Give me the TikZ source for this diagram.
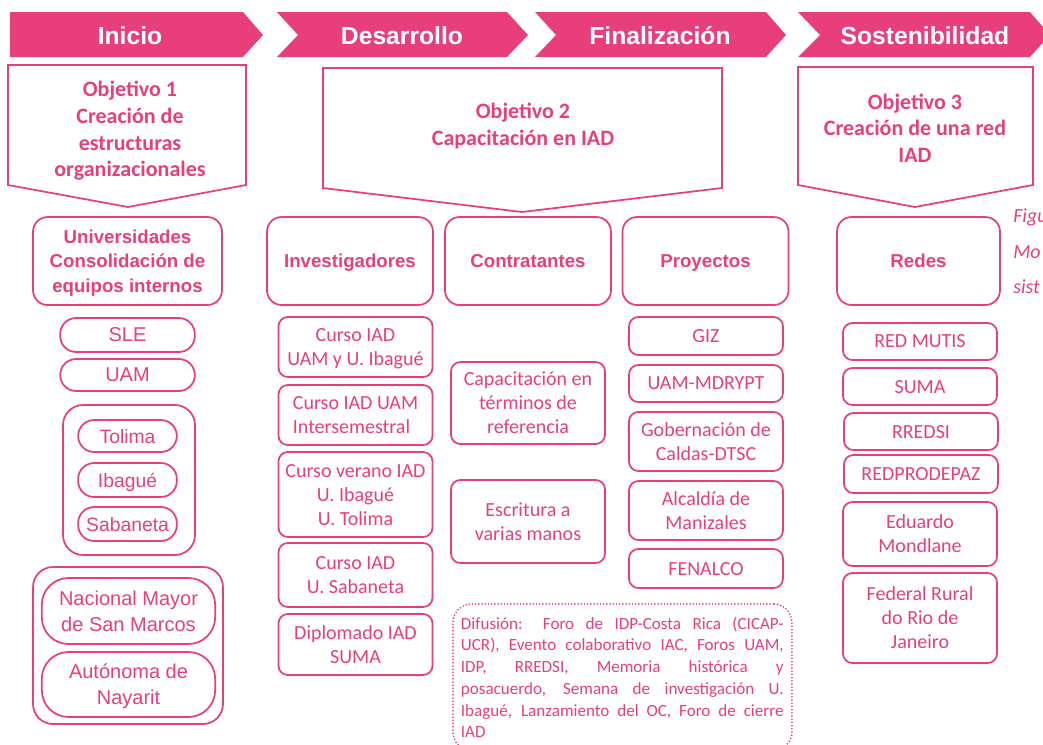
\documentclass[tikz,border=0pt]{standalone}
\usepackage{fontspec}
\setmainfont{Carlito}
\newfontfamily\arialfont{Liberation Sans}
\definecolor{iadpink}{RGB}{232,62,124}
\newcommand{\fullline}[1]{\makebox[242pt][s]{\spaceskip=0pt \xspaceskip=0pt #1}}

\begin{document}
\begin{tikzpicture}[
    x=0.75pt, y=-0.75pt,
    phase/.style={
        fill=iadpink,
        draw=none,
    },
    phasetext/.style={
        text=white,
        font=\arialfont\bfseries\fontsize{18.5}{22}\selectfont,
    },
    goal/.style={
        draw=iadpink,
        line width=1.3pt,
        line join=miter,
    },
    goaltext/.style={
        text=iadpink,
        align=center,
        font=\bfseries\fontsize{16.5}{20}\selectfont,
    },
    group/.style={
        draw=iadpink,
        line width=1.3pt,
        rounded corners=11pt,
        text=iadpink,
        align=center,
        inner sep=0pt,
        text depth=-3pt,
        minimum width=124.5pt,
        minimum height=66pt,
        font=\arialfont\bfseries\fontsize{14}{18.4}\selectfont,
    },
    item/.style={
        draw=iadpink,
        line width=1.3pt,
        rounded corners=7pt,
        text=iadpink,
        align=center,
        inner sep=0pt,
        text depth=-2.5pt,
        minimum width=115.5pt,
        font=\fontsize{15}{18}\selectfont,
    },
    pill/.style={
        item,
        rounded corners=12pt,
        text depth=-1.5pt,
        minimum width=101pt,
        font=\arialfont\fontsize{15}{19.5}\selectfont,
    },
    holder/.style={
        draw=iadpink,
        line width=1.3pt,
        rounded corners=15pt,
        inner sep=0pt,
    },
    note/.style={
        draw=iadpink,
        line width=1.4pt,
        line cap=round,
        dash pattern=on 0pt off 2.4pt,
        rounded corners=14pt,
        text=iadpink,
        text width=242.25pt,
        align=left,
        inner xsep=6pt,
        inner ysep=9.5pt,
        font=\fontsize{12.8}{16.3}\selectfont,
    },
    figtext/.style={
        text=iadpink,
        inner sep=0pt,
        font=\itshape\fontsize{15}{18}\selectfont,
    }
]
    \useasboundingbox (0,0) rectangle (1043,744);

    % Phases
    \fill[phase] (10,12) -- (243,12) -- (263,35) -- (243,57) -- (10,57) -- cycle;
    \fill[phase] (277,12) -- (507,12) -- (528,35) -- (507,57) -- (277,57) -- (298,35) -- cycle;
    \fill[phase] (535,12) -- (766,12) -- (786,35) -- (766,57) -- (535,57) -- (556,35) -- cycle;
    \fill[phase] (798,12) -- (1030,12) -- (1050,35) -- (1030,57) -- (798,57) -- (820,35) -- cycle;
    \node[phasetext] (inicio) at (130,35.5) {Inicio};
    \node[phasetext] (desarrollo) at (402,35.5) {Desarrollo};
    \node[phasetext] (finalizacion) at (660,35.5) {Finalización};
    \node[phasetext] (sostenibilidad) at (925,35.5) {Sostenibilidad};

    % Goals
    \draw[goal] (8,65) -- (246,65) -- (246,185) -- (128,207) -- (8,185) -- cycle;
    \draw[goal] (323,68) -- (722,68) -- (722,188) -- (522,212) -- (323,188) -- cycle;
    \draw[goal] (798,67) -- (1033,67) -- (1033,185) -- (915,207) -- (798,185) -- cycle;
    \node[goaltext] (obj1) at (130,131) {Objetivo 1\\Creación de\\estructuras\\organizacionales};
    \node[goaltext] (obj2) at (523,126) {Objetivo 2\\Capacitación en IAD};
    \node[goaltext] (obj3) at (915,128) {Objetivo 3\\Creación de una red\\IAD};

    % Universidades
    \node[group, minimum width=141.75pt] (univ) at (127.5,261) {Universidades\\Consolidación de\\equipos internos};
    \node[pill, minimum height=25.5pt] (sle) at (127.5,335) {SLE};
    \node[pill, minimum height=24pt] (uam) at (127.5,375) {UAM};
    \node[holder, minimum width=99pt, minimum height=112.5pt] (regiones) at (129,480) {};
    \node[pill, minimum width=74pt, minimum height=24pt, font=\arialfont\fontsize{14.5}{18}\selectfont] (tolima) at (127.5,436) {Tolima};
    \node[pill, minimum width=74pt, minimum height=25.5pt, font=\arialfont\fontsize{14.5}{18}\selectfont] (ibague) at (127.5,480) {Ibagué};
    \node[pill, minimum width=74pt, minimum height=25.5pt, font=\arialfont\fontsize{14.5}{18}\selectfont] (sabaneta) at (127.5,524) {Sabaneta};
    \node[holder, minimum width=142.5pt, minimum height=117.75pt] (exterior) at (128,645.5) {};
    \node[pill, minimum width=130pt, minimum height=49.5pt, rounded corners=20pt] (sanmarcos) at (128.5,611) {Nacional Mayor\\de San Marcos};
    \node[pill, minimum width=130pt, minimum height=48.75pt, rounded corners=20pt] (nayarit) at (128.5,684.5) {Autónoma de\\Nayarit};

    % Investigadores
    \node[group] (invest) at (350,261) {Investigadores};
    \node[item, minimum height=45pt] (curso1) at (355.5,347) {Curso IAD\\UAM y U. Ibagué};
    \node[item, minimum height=45pt, align=left] (curso2) at (355.5,415) {Curso IAD UAM\\Intersemestral};
    \node[item, minimum height=63.75pt] (curso3) at (355.5,494.5) {Curso verano IAD\\U. Ibagué\\U. Tolima};
    \node[item, minimum height=48pt] (curso4) at (355.5,575) {Curso IAD\\U. Sabaneta};
    \node[item, minimum height=45.75pt] (diplomado) at (355.5,644.5) {Diplomado IAD\\SUMA};

    % Contratantes
    \node[group] (contrat) at (528,261) {Contratantes};
    \node[item, minimum height=61.5pt] (terminos) at (528,403) {Capacitación en\\términos de\\referencia};
    \node[item, minimum height=62.25pt] (escritura) at (528,521.5) {Escritura a\\varias manos};
    \node[note, anchor=north west] (difusion) at (452,603) {%
        \fullline{Difusión: Foro de IDP-Costa Rica (CICAP-}\\
        \fullline{UCR), Evento colaborativo IAC, Foros UAM,}\\
        \fullline{IDP, RREDSI, Memoria histórica y}\\
        \fullline{posacuerdo, Semana de investigación U.}\\
        \fullline{Ibagué, Lanzamiento del OC, Foro de cierre}\\
        IAD};

    % Proyectos
    \node[group] (proyectos) at (705.5,261) {Proyectos};
    \node[item, minimum height=28.5pt] (giz) at (706,336) {GIZ};
    \node[item, minimum height=27.75pt] (mdrypt) at (706,383.5) {UAM-MDRYPT};
    \node[item, minimum height=44.25pt] (caldas) at (706,441.5) {Gobernación de\\Caldas-DTSC};
    \node[item, minimum height=44.25pt] (manizales) at (706,510.5) {Alcaldía de\\Manizales};
    \node[item, minimum height=29.25pt] (fenalco) at (706,568.5) {FENALCO};

    % Redes
    \node[group, minimum width=122.25pt] (redes) at (918.5,261) {Redes};
    \node[item, minimum height=27.75pt] (mutis) at (920,341.5) {RED MUTIS};
    \node[item, minimum height=27.75pt] (suma) at (920,386.5) {SUMA};
    \node[item, minimum height=27.75pt] (rredsi) at (921,431.5) {RREDSI};
    \node[item, minimum height=28.5pt] (prodepaz) at (921,474) {REDPRODEPAZ};
    \node[item, minimum height=48pt] (mondlane) at (920,534) {Eduardo\\Mondlane};
    \node[item, minimum height=67.5pt] (janeiro) at (920,618) {Federal Rural\\do Rio de\\Janeiro};

    % Caption (cut at the edge)
    \node[figtext, anchor=base west] (figa) at (1013,222) {Figu};
    \node[figtext, anchor=base west] (figb) at (1013,258) {Mo};
    \node[figtext, anchor=base west] (figc) at (1013,293) {sist};

\end{tikzpicture}
\end{document}
